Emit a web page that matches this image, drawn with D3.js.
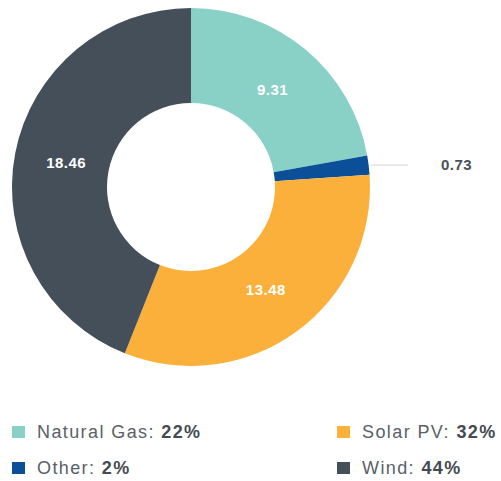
<!DOCTYPE html>
<html>
<head>
<meta charset="utf-8">
<script src="https://cdn.jsdelivr.net/npm/d3@7"></script>
<style>
  body { margin: 0; background: #fff; }
  svg { display: block; font-family: "Liberation Sans", Arial, sans-serif; }
</style>
</head>
<body>
<div id="chart"></div>
<script>
// data
const categories = ["Natural Gas", "Other", "Solar PV", "Wind"]
const values = [9.31, 0.73, 13.48, 18.46]
const percentLabels = ["22%", "2%", "32%", "44%"]
const colors = ["#89d0c6", "#0b4f99", "#fbb03b", "#454f5a"]

const width = 501
const height = 481
const cx = 191
const cy = 187
const outerR = 179
const innerR = 84

const svg = d3.select("#chart")
  .append("svg")
    .attr("width", width)
    .attr("height", height)

const data = categories.map((c, i) => ({ name: c, value: values[i], pct: percentLabels[i], color: colors[i] }))

const pie = d3.pie()
  .sort(null)
  .value(d => d.value)

const arcs = pie(data)

const arc = d3.arc()
  .innerRadius(innerR)
  .outerRadius(outerR)

const labelArc = d3.arc()
  .innerRadius(outerR * 0.71)
  .outerRadius(outerR * 0.71)

const g = svg.append("g")
  .attr("transform", `translate(${cx},${cy})`)

g.selectAll("path")
  .data(arcs)
  .join("path")
    .attr("d", arc)
    .attr("fill", d => d.data.color)

// labels inside the big slices
g.selectAll("text.val")
  .data(arcs.filter(d => d.data.value > 2))
  .join("text")
    .attr("class", "val")
    .attr("transform", d => `translate(${labelArc.centroid(d)})`)
    .attr("text-anchor", "middle")
    .attr("dy", "0.35em")
    .attr("fill", "#fff")
    .attr("font-size", 15)
    .attr("font-weight", "bold")
    .attr("letter-spacing", 0.5)
    .text(d => d.data.value.toFixed(2))

// small slice: leader line + outside label
const small = arcs.filter(d => d.data.value <= 2)
small.forEach(d => {
  const mid = (d.startAngle + d.endAngle) / 2
  const x0 = Math.sin(mid) * outerR
  const y0 = -Math.cos(mid) * outerR
  g.append("line")
    .attr("x1", x0 + 2)
    .attr("y1", y0)
    .attr("x2", 217)
    .attr("y2", y0)
    .attr("stroke", "#d3d5d7")
    .attr("stroke-width", 1)
  g.append("text")
    .attr("x", 250)
    .attr("y", y0)
    .attr("dy", "0.35em")
    .attr("fill", "#4a5058")
    .attr("font-size", 15)
    .attr("font-weight", "bold")
    .attr("letter-spacing", 0.5)
    .text(d.data.value.toFixed(2))
})

// legend
const legendPos = [[12, 438], [12, 474], [337, 438], [337, 474]]
const legend = svg.append("g")
  .selectAll("g")
  .data(data)
  .join("g")
    .attr("transform", (d, i) => `translate(${legendPos[i][0]},${legendPos[i][1]})`)

legend.append("rect")
  .attr("x", 0)
  .attr("y", -12)
  .attr("width", 13)
  .attr("height", 12)
  .attr("fill", d => d.color)

const lt = legend.append("text")
  .attr("x", 25)
  .attr("y", 0)
  .attr("font-size", 18)
  .attr("letter-spacing", 1.4)
  .attr("fill", "#5a6068")

lt.append("tspan")
  .text(d => d.name + ": ")

lt.append("tspan")
  .attr("font-weight", "bold")
  .attr("fill", "#454b52")
  .text(d => d.pct)
</script>
</body>
</html>
